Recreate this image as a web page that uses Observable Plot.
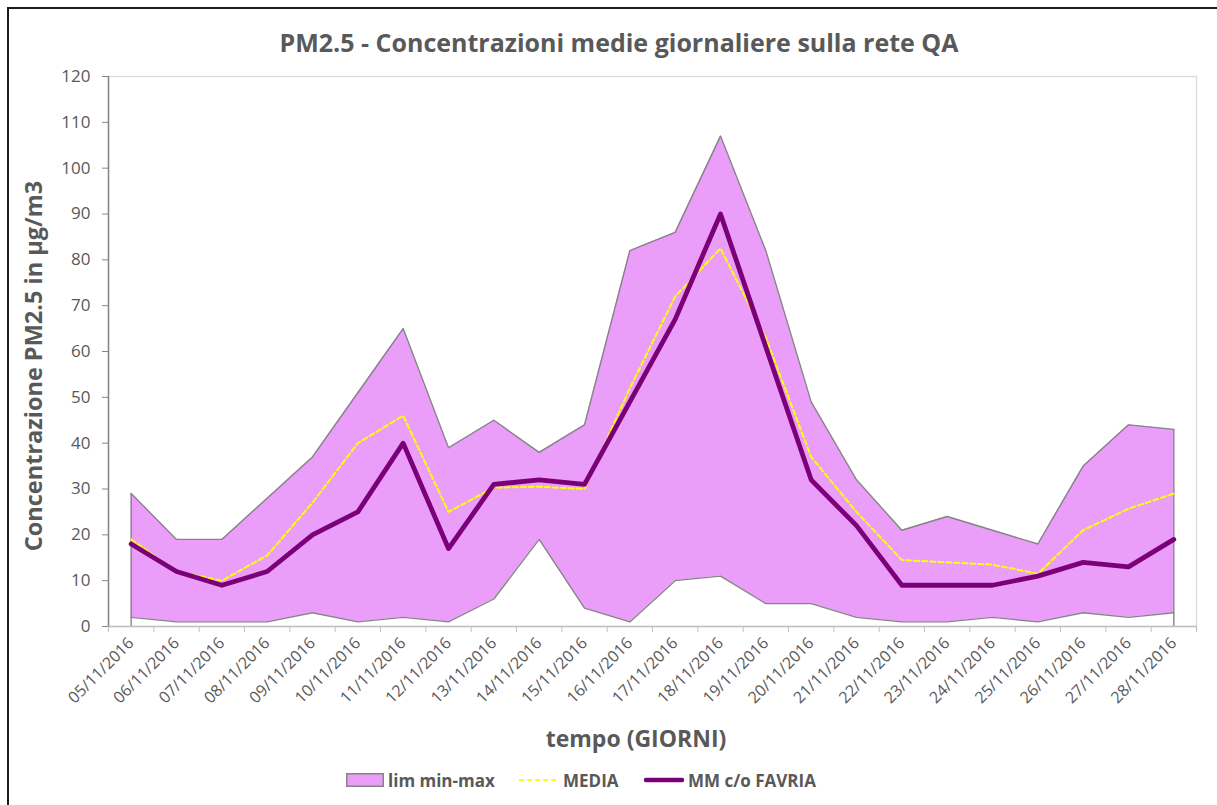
<!DOCTYPE html>
<html>
<head>
<meta charset="utf-8">
<script src="https://cdn.jsdelivr.net/npm/d3@7"></script>
<script src="https://cdn.jsdelivr.net/npm/@observablehq/plot@0.6"></script>
<style>
  html, body { margin: 0; padding: 0; background: #fff; overflow: hidden; }
  body { width: 1217px; height: 805px; position: relative; font-family: "Open Sans", sans-serif; color: #595959; }
  #border { position: absolute; left: 7px; top: 7px; width: 1300px; height: 900px; border: 2px solid #1a1a1a; box-sizing: border-box; }
  #title { position: absolute; left: 619px; top: 42px; transform: translate(-50%, -50%); white-space: nowrap; font-weight: bold; font-size: 25px; line-height: 34px; }
  #chart { position: absolute; left: 0; top: 0; }
  #ylabel { position: absolute; left: 33px; top: 366px; transform: translate(-50%, -50%) rotate(-90deg); white-space: nowrap; font-weight: bold; font-size: 23.5px; }
  #xlabel { position: absolute; left: 636px; top: 738px; transform: translate(-50%, -50%); white-space: nowrap; font-weight: bold; font-size: 23px; }
  #legend { position: absolute; top: 768px; left: 0; width: 1217px; height: 24px; font-weight: bold; font-size: 17px; }
  .item { position: absolute; top: 0; height: 24px; display: flex; align-items: center; white-space: nowrap; }
  .item svg { margin-right: 4px; }
</style>
</head>
<body>
<div id="border"></div>
<div id="chart"></div>
<div id="title">PM2.5 - Concentrazioni medie giornaliere sulla rete QA</div>
<div id="ylabel">Concentrazione PM2.5 in µg/m3</div>
<div id="xlabel">tempo (GIORNI)</div>
<div id="legend"></div>
<script>
const dates = ["05/11/2016","06/11/2016","07/11/2016","08/11/2016","09/11/2016","10/11/2016","11/11/2016","12/11/2016","13/11/2016","14/11/2016","15/11/2016","16/11/2016","17/11/2016","18/11/2016","19/11/2016","20/11/2016","21/11/2016","22/11/2016","23/11/2016","24/11/2016","25/11/2016","26/11/2016","27/11/2016","28/11/2016"];
const maxValues = [29,19,19,28,37,51,65,39,45,38,44,82,86,107,82,49,32,21,24,21,18,35,44,43];
const minValues = [2,1,1,1,3,1,2,1,6,19,4,1,10,11,5,5,2,1,1,2,1,3,2,3];
const mediaValues = [19,12,10,15.5,27,40,46,25,30.3,30.5,30,52,72,82.5,63,37,25,14.5,14,13.5,11.5,21,25.7,29];
const favriaValues = [18,12,9,12,20,25,40,17,31,32,31,49,67,90,61,32,22,9,9,9,11,14,13,19];
const yTicks = [0,10,20,30,40,50,60,70,80,90,100,110,120];
const legendLabels = ["lim min-max", "MEDIA", "MM c/o FAVRIA"];

const fillColor = "#EA9EFA";
const edgeColor = "#858585";
const mediaColor = "#FFFF00";
const favriaColor = "#7B0078";
const textColor = "#595959";

const rows = dates.map((d, i) => ({i, date: d, min: minValues[i], max: maxValues[i], media: mediaValues[i], favria: favriaValues[i]}));
const idx = d3.range(dates.length);
const bounds = d3.range(dates.length + 1).map(k => k - 0.5);
const ends = [rows[0], rows[rows.length - 1]];

const plot = Plot.plot({
  width: 1217,
  height: 760,
  marginLeft: 108,
  marginRight: 21,
  marginTop: 76,
  marginBottom: 134,
  style: {background: "transparent", fontFamily: "Open Sans, sans-serif", fontSize: "17px", color: textColor, overflow: "visible"},
  x: {type: "linear", domain: [-0.5, dates.length - 0.5], axis: null},
  y: {domain: [0, 120], axis: null},
  marks: [
    Plot.frame({stroke: "#d9d9d9", strokeWidth: 1.3}),
    Plot.areaY(rows, {x: "i", y1: "min", y2: "max", fill: fillColor, curve: "linear"}),
    Plot.lineY(rows, {x: "i", y: "max", stroke: edgeColor, strokeWidth: 1.4}),
    Plot.lineY(rows, {x: "i", y: "min", stroke: edgeColor, strokeWidth: 1.4}),
    Plot.ruleX(ends, {x: "i", y1: 0, y2: "max", stroke: edgeColor, strokeWidth: 1.4}),
    Plot.lineY(rows, {x: "i", y: "media", stroke: mediaColor, strokeWidth: 2, strokeDasharray: "5,3"}),
    Plot.lineY(rows, {x: "i", y: "favria", stroke: favriaColor, strokeWidth: 4.8, strokeLinejoin: "round", strokeLinecap: "round"}),
    Plot.ruleY([0], {stroke: "#bfbfbf", strokeWidth: 1.3}),
    Plot.ruleX([-0.5], {stroke: "#868686", strokeWidth: 1.5}),
    Plot.axisY({ticks: yTicks, tickSize: 6, tickPadding: 12, stroke: "#868686", fill: textColor, fontSize: 17, label: null}),
    Plot.axisX({ticks: bounds, tickSize: 6, stroke: "#bfbfbf", tickFormat: () => "", label: null}),
    Plot.axisX({ticks: idx, tickSize: 0, tickPadding: 14, tickRotate: -45, tickFormat: i => dates[i], fill: textColor, fontSize: 16, label: null})
  ]
});
document.getElementById("chart").appendChild(plot);

const legend = document.getElementById("legend");
const swatches = [
  `<svg width="38" height="14"><rect x="0.75" y="0.75" width="36.5" height="12.5" fill="${fillColor}" stroke="${edgeColor}" stroke-width="1.5"/></svg>`,
  `<svg width="40" height="14"><line x1="0" x2="40" y1="7" y2="7" stroke="${mediaColor}" stroke-width="2" stroke-dasharray="5,3"/></svg>`,
  `<svg width="40" height="14"><line x1="2" x2="38" y1="7" y2="7" stroke="${favriaColor}" stroke-width="4.5" stroke-linecap="round"/></svg>`
];
const lefts = [346, 519, 644];
legendLabels.forEach((lab, k) => {
  const el = document.createElement("div");
  el.className = "item";
  el.style.left = lefts[k] + "px";
  el.innerHTML = swatches[k] + `<span>${lab}</span>`;
  legend.appendChild(el);
});
</script>
</body>
</html>
